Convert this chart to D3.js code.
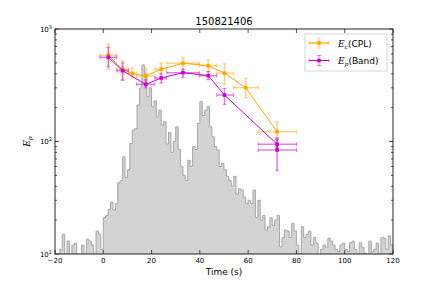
<!DOCTYPE html>
<html>
<head>
<meta charset="utf-8">
<script src="https://cdn.jsdelivr.net/npm/d3@7"></script>
<style>
  body { margin: 0; background: #fff; }
  text { font-family: "DejaVu Sans", sans-serif; fill: #000; }
  .tick-label { font-size: 7px; }
</style>
</head>
<body>
<div id="chart"></div>
<script>
// ---- data ----
const histStart = -20; // light curve, 1 s bins from -20 s
const histCounts = [
  8, 9, 11, 15, 10, 13, 9, 12, 12.5, 10,
  9, 12, 10, 13.5, 13, 12, 10, 16, 15, 11,
  21, 22, 25, 29, 24.6, 28, 43, 45, 73, 48,
  56, 96, 126, 130, 211, 300, 479, 400, 250, 300,
  204, 230, 166, 190, 140, 150, 95, 120, 80, 100,
  135, 85, 60, 50, 45, 68, 60, 90, 85, 145,
  226, 170, 190, 204, 135, 110, 90, 84, 60, 64,
  56, 49, 45, 40, 49, 34, 38, 37, 32, 28,
  30, 28, 37, 21, 30, 20, 22, 16.3, 17.5, 21,
  18, 20, 22, 11.6, 14, 16.3, 16, 14, 18.7, 16,
  12, 10, 17.5, 14, 15, 16, 12, 14, 12.5, 9.5,
  11, 12, 11.5, 13.8, 13, 12, 11, 10.5, 12, 12.5,
  11, 10.5, 12.6, 13, 11, 10, 12.6, 11.5, 10.2, 9.5,
  13, 10.5, 11, 12.5, 10, 14, 13.8, 11, 14.5, 12
];

const cplTime   = [2.1, 8.0, 12.1, 17.6, 24.0, 33.0, 43.5, 50.2, 59.0, 72.0];
const cplTimeLo = [-1.4, 5.6, 10.4, 13.8, 21.4, 26.3, 39.8, 47.0, 53.9, 64.2];
const cplTimeHi = [5.6, 10.4, 13.8, 21.4, 26.3, 39.8, 47.0, 53.9, 64.2, 80.1];
const cplEc     = [583, 438, 403, 382, 440, 496, 472, 405, 301, 122];
const cplEcLo   = [440, 354, 367, 347, 392, 438, 418, 320, 245, 105];
const cplEcHi   = [735, 523, 450, 450, 499, 560, 529, 490, 365, 150];

const bandTime   = [2.1, 8.0, 17.6, 24.0, 33.0, 43.5, 50.2, 72.0, 72.0];
const bandTimeLo = [-1.4, 5.6, 13.8, 21.4, 26.3, 39.8, 47.0, 64.2, 64.2];
const bandTimeHi = [5.6, 10.4, 21.4, 26.3, 39.8, 47.0, 53.9, 80.1, 80.1];
const bandEp     = [560, 426, 322, 367, 409, 385, 259, 94.5, 84];
const bandEpLo   = [460, 350, 299, 331, 372, 354, 214, 88, 55];
const bandEpHi   = [690, 500, 354, 405, 440, 418, 297, 108, 105];

const xTicks = [-20, 0, 20, 40, 60, 80, 100, 120];
const yTickExps = [1, 2, 3];
const titleText = "150821406";

// ---- layout ----
const W = 436, H = 291;
const margin = {top: 29, right: 43, bottom: 37, left: 55};
const width = W - margin.left - margin.right;
const height = H - margin.top - margin.bottom;

const svg = d3.select("#chart").append("svg")
  .attr("width", W).attr("height", H);

const g = svg.append("g")
  .attr("transform", `translate(${margin.left},${margin.top})`);

const x = d3.scaleLinear().domain([-20, 120]).range([0, width]);
const y = d3.scaleLog().domain([10, 1000]).range([height, 0]);

g.append("clipPath").attr("id", "plot-clip")
  .append("rect").attr("width", width).attr("height", height);

const plot = g.append("g").attr("clip-path", "url(#plot-clip)");

// light curve as a step histogram
let steps = [];
histCounts.forEach((c, i) => {
  let v = Math.max(c, 9);
  steps.push([histStart + i, v]);
  steps.push([histStart + i + 1, v]);
});
plot.append("path")
  .datum(steps)
  .attr("d", d3.area().x(d => x(d[0])).y0(y(9)).y1(d => y(d[1])))
  .attr("fill", "#d3d3d3")
  .attr("stroke", "#a6a6a6")
  .attr("stroke-width", 1);

// errorbar series
function drawSeries(t, tLo, tHi, v, vLo, vHi, color) {
  const s = plot.append("g");
  const rows = t.map((d, i) => ({t: d, tl: tLo[i], th: tHi[i], v: v[i], vl: vLo[i], vh: vHi[i]}));
  const cap = 2;

  s.append("path")
    .datum(rows)
    .attr("d", d3.line().x(d => x(d.t)).y(d => y(d.v)))
    .attr("fill", "none")
    .attr("stroke", color)
    .attr("stroke-width", 1);

  const eb = s.append("g").attr("stroke", color).attr("stroke-opacity", 0.5).attr("stroke-width", 1);
  rows.forEach(d => {
    // horizontal
    eb.append("line").attr("x1", x(d.tl)).attr("x2", x(d.th)).attr("y1", y(d.v)).attr("y2", y(d.v)).attr("stroke-width", 1.5);
    eb.append("line").attr("x1", x(d.tl)).attr("x2", x(d.tl)).attr("y1", y(d.v) - cap).attr("y2", y(d.v) + cap);
    eb.append("line").attr("x1", x(d.th)).attr("x2", x(d.th)).attr("y1", y(d.v) - cap).attr("y2", y(d.v) + cap);
    // vertical
    eb.append("line").attr("x1", x(d.t)).attr("x2", x(d.t)).attr("y1", y(d.vl)).attr("y2", y(d.vh)).attr("stroke-width", 1.5);
    eb.append("line").attr("x1", x(d.t) - cap).attr("x2", x(d.t) + cap).attr("y1", y(d.vl)).attr("y2", y(d.vl));
    eb.append("line").attr("x1", x(d.t) - cap).attr("x2", x(d.t) + cap).attr("y1", y(d.vh)).attr("y2", y(d.vh));
  });

  s.selectAll("rect.pt")
    .data(rows)
    .enter()
    .append("rect")
    .attr("class", "pt")
    .attr("x", d => x(d.t) - 1.8)
    .attr("y", d => y(d.v) - 1.8)
    .attr("width", 3.6)
    .attr("height", 3.6)
    .attr("fill", color);
}

drawSeries(cplTime, cplTimeLo, cplTimeHi, cplEc, cplEcLo, cplEcHi, "#ffa500");
drawSeries(bandTime, bandTimeLo, bandTimeHi, bandEp, bandEpLo, bandEpHi, "#c800c8");

// ---- axes (ticks inside, on all four sides) ----
const axisColor = "#222";
const ticksG = g.append("g").attr("stroke", axisColor).attr("stroke-width", 0.8);

xTicks.forEach(t => {
  ticksG.append("line").attr("x1", x(t)).attr("x2", x(t)).attr("y1", height).attr("y2", height - 4);
  ticksG.append("line").attr("x1", x(t)).attr("x2", x(t)).attr("y1", 0).attr("y2", 4);
  g.append("text").attr("class", "tick-label")
    .attr("x", x(t)).attr("y", height + 9)
    .attr("text-anchor", "middle")
    .text(t < 0 ? "\u2212" + Math.abs(t) : t);
});

// y major + minor ticks
for (let e = 1; e <= 2; e++) {
  for (let m = 2; m <= 9; m++) {
    const v = m * Math.pow(10, e);
    ticksG.append("line").attr("x1", 0).attr("x2", 2).attr("y1", y(v)).attr("y2", y(v));
    ticksG.append("line").attr("x1", width).attr("x2", width - 2).attr("y1", y(v)).attr("y2", y(v));
  }
}
yTickExps.forEach(e => {
  const v = Math.pow(10, e);
  ticksG.append("line").attr("x1", 0).attr("x2", 4).attr("y1", y(v)).attr("y2", y(v));
  ticksG.append("line").attr("x1", width).attr("x2", width - 4).attr("y1", y(v)).attr("y2", y(v));
  const lab = g.append("text").attr("class", "tick-label")
    .attr("x", -3).attr("y", y(v) + 2.5)
    .attr("text-anchor", "end");
  lab.append("tspan").text("10");
  lab.append("tspan").attr("dy", -3).attr("font-size", "5px").text(e);
});

g.append("rect")
  .attr("width", width).attr("height", height)
  .attr("fill", "none").attr("stroke", axisColor).attr("stroke-width", 1);

// title and axis labels
svg.append("text")
  .attr("x", margin.left + width / 2).attr("y", 25)
  .attr("text-anchor", "middle")
  .attr("font-size", "10px")
  .text(titleText);

svg.append("text")
  .attr("x", margin.left + width / 2).attr("y", 275)
  .attr("text-anchor", "middle")
  .attr("font-size", "9px")
  .text("Time (s)");

const ylab = svg.append("text")
  .attr("transform", `translate(30,${margin.top + height / 2}) rotate(-90)`)
  .attr("text-anchor", "middle")
  .attr("font-size", "9px");
ylab.append("tspan").attr("font-family", "DejaVu Serif").attr("font-style", "italic").text("E");
ylab.append("tspan").attr("font-family", "DejaVu Serif").attr("font-style", "italic")
  .attr("font-size", "6px").attr("dy", 2).text("p");

// ---- legend ----
const legend = svg.append("g").attr("transform", "translate(305,34)");
legend.append("rect")
  .attr("width", 82).attr("height", 37)
  .attr("fill", "#fff").attr("stroke", "#ccc").attr("stroke-width", 0.8);

const legendItems = [
  {sub: "c", name: "(CPL)", color: "#ffa500"},
  {sub: "p", name: "(Band)", color: "#c800c8"}
];
legendItems.forEach((d, i) => {
  const ly = 9 + i * 17.5;
  const li = legend.append("g").attr("transform", `translate(0,${ly})`);
  const eb = li.append("g").attr("stroke", d.color).attr("stroke-opacity", 0.5);
  eb.append("line").attr("x1", 4).attr("x2", 24).attr("y1", 0).attr("y2", 0);
  eb.append("line").attr("x1", 4).attr("x2", 4).attr("y1", -2).attr("y2", 2);
  eb.append("line").attr("x1", 24).attr("x2", 24).attr("y1", -2).attr("y2", 2);
  eb.append("line").attr("x1", 14).attr("x2", 14).attr("y1", -5).attr("y2", 5);
  eb.append("line").attr("x1", 12).attr("x2", 16).attr("y1", -5).attr("y2", -5);
  eb.append("line").attr("x1", 12).attr("x2", 16).attr("y1", 5).attr("y2", 5);
  li.append("line").attr("x1", 4).attr("x2", 24).attr("y1", 0).attr("y2", 0)
    .attr("stroke", d.color).attr("stroke-width", 1);
  li.append("rect").attr("x", 12.2).attr("y", -1.8).attr("width", 3.6).attr("height", 3.6).attr("fill", d.color);

  const t = li.append("text").attr("x", 33).attr("y", 3.5).attr("font-size", "9px");
  t.append("tspan").attr("font-family", "DejaVu Serif").attr("font-style", "italic").text("E");
  t.append("tspan").attr("font-family", "DejaVu Serif").attr("font-style", "italic")
    .attr("font-size", "6px").attr("dy", 2).text(d.sub);
  t.append("tspan").attr("dy", -2).text(d.name);
});
</script>
</body>
</html>
